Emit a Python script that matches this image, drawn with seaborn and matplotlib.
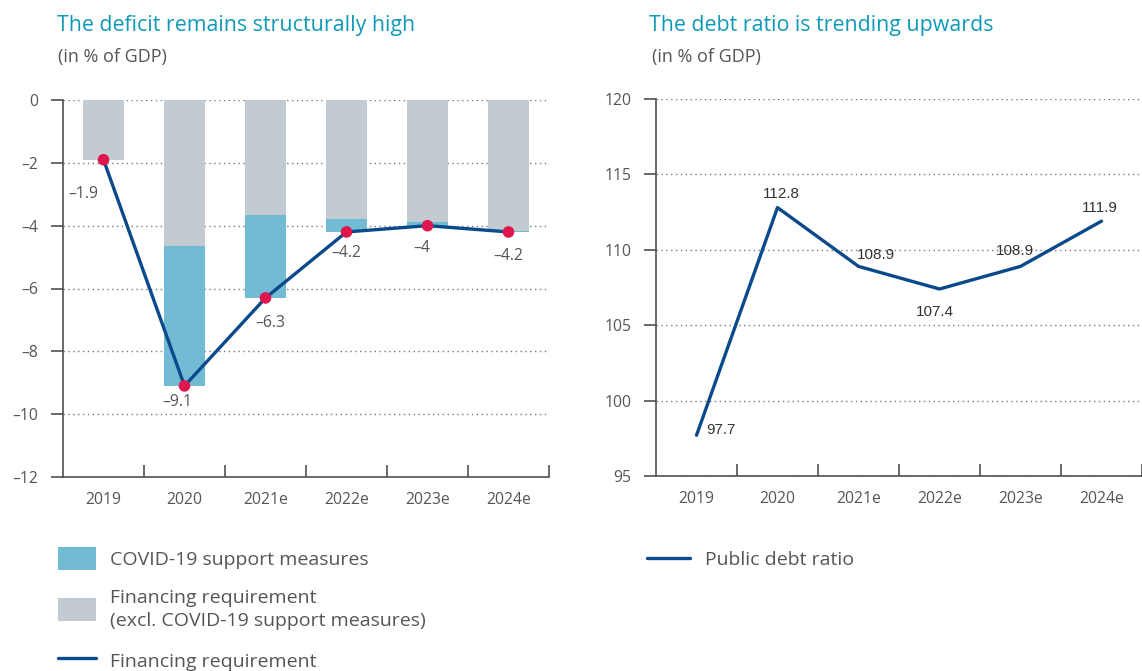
import numpy as np
import pandas as pd
import matplotlib
matplotlib.use("Agg")
import matplotlib.pyplot as plt
from matplotlib.patches import Patch
from matplotlib.lines import Line2D
import seaborn as sns

# ---------------- data ----------------
years = ["2019", "2020", "2021e", "2022e", "2023e", "2024e"]
# Financing requirement (total deficit, % of GDP)
financing_total = [-1.9, -9.1, -6.3, -4.2, -4.0, -4.2]
# Financing requirement excl. COVID-19 support measures
financing_excl = [-1.9, -4.65, -3.65, -3.8, -3.88, -4.18]
# Public debt ratio (% of GDP)
debt_ratio = [97.7, 112.8, 108.9, 107.4, 108.9, 111.9]

left_yticks = [0, -2, -4, -6, -8, -10, -12]
right_yticks = [95, 100, 105, 110, 115, 120]

# ---------------- style ----------------
sns.set_theme(style="white")
plt.rcParams['font.family'] = ['Open Sans', 'DejaVu Sans']

TEAL = "#0f99b9"
BLUE_BAR = "#71bcd4"
GRAY_BAR = "#c2cbd1"
LINE = "#0a4a8b"
DOT = "#e0174f"
TXT = "#555555"
SPINE = "#505050"

W, H = 1142, 671
fig = plt.figure(figsize=(W / 100, H / 100), dpi=100)

def fx(px):
    return px / W

def fy(py):
    return 1 - py / H

axL = fig.add_axes([fx(63), fy(477), 486 / W, 377 / H])
axR = fig.add_axes([fx(656), fy(476), 486 / W, 377 / H])

df = pd.DataFrame({"year": years, "total": financing_total,
                   "excl": financing_excl, "debt": debt_ratio})
pos = np.arange(len(years))

def fmt_minus(v):
    return f"{v:g}".replace("-", "\u2013")

# ---------------- left chart ----------------
sns.barplot(data=df, x="year", y="total", color=BLUE_BAR, saturation=1,
            width=0.5, ax=axL, zorder=2, linewidth=0, edgecolor="none")
sns.barplot(data=df, x="year", y="excl", color=GRAY_BAR, saturation=1,
            width=0.5, ax=axL, zorder=3, linewidth=0, edgecolor="none")
sns.lineplot(x=pos, y=financing_total, color=LINE, lw=2.4, ax=axL, zorder=4)
sns.scatterplot(x=pos, y=financing_total, color=DOT, s=70, edgecolor="none",
                ax=axL, zorder=5)

axL.set_xlim(-0.5, len(years) - 0.5)
axL.set_ylim(-12, 0)
axL.set_yticks(left_yticks)
axL.set_yticklabels([fmt_minus(v) for v in left_yticks])
axL.set_xticks(pos)
axL.set_xticklabels(years)
axL.set_xticks(pos + 0.5, minor=True)
axL.set_xlabel("")
axL.set_ylabel("")

left_offsets = [(-20, -34), (-7, -16), (5, -25), (0, -21), (-6, -22), (0, -24)]
for i, v in enumerate(financing_total):
    dx, dy = left_offsets[i]
    axL.annotate(fmt_minus(v), (pos[i], v), xytext=(dx * 0.72, dy * 0.72),
                 textcoords="offset points", ha="center", va="center",
                 fontsize=11.3, color=TXT)

for y in left_yticks[:-1]:
    axL.axhline(y, color="#777777", lw=1.0, ls=(0, (1, 2.5)), zorder=1)

# ---------------- right chart ----------------
sns.lineplot(data=df, x=pos, y="debt", color=LINE, lw=2.4, ax=axR, zorder=4)
axR.set_xlim(-0.5, len(years) - 0.5)
axR.set_ylim(95, 120)
axR.set_yticks(right_yticks)
axR.set_yticklabels([str(v) for v in right_yticks])
axR.set_xticks(pos)
axR.set_xticklabels(years)
axR.set_xticks(pos + 0.5, minor=True)
axR.set_xlabel("")
axR.set_ylabel("")

right_offsets = [(10, 5, "left"), (4, 14, "center"), (17, 11, "center"),
                 (-5, -23, "center"), (-6, 15, "center"), (-2, 13, "center")]
for i, v in enumerate(debt_ratio):
    dx, dy, ha = right_offsets[i]
    axR.annotate(f"{v:.1f}", (pos[i], v), xytext=(dx * 0.72, dy * 0.72),
                 textcoords="offset points", ha=ha, va="center",
                 fontsize=11, color="#333333", family=["Liberation Sans"])

for y in right_yticks:
    axR.axhline(y, color="#777777", lw=1.0, ls=(0, (1, 2.5)), zorder=1)

# ---------------- common axis styling ----------------
for ax in (axL, axR):
    ax.set_facecolor("none")
    for s in ("top", "right"):
        ax.spines[s].set_visible(False)
    for s in ("left", "bottom"):
        ax.spines[s].set_color(SPINE)
        ax.spines[s].set_linewidth(1.2)
    ax.tick_params(axis="y", which="major", direction="out", length=8.5,
                   width=1.2, color=SPINE, pad=9, labelsize=11.3, labelcolor=TXT,
                   left=True)
    ax.tick_params(axis="x", which="major", length=0, pad=11, labelsize=11.3,
                   labelcolor=TXT, bottom=True)
    ax.tick_params(axis="x", which="minor", direction="in", length=8.5,
                   width=1.2, color=SPINE, bottom=True)
    ax.grid(False)

# ---------------- titles ----------------
fig.text(fx(57), fy(25), "The deficit remains structurally high", color=TEAL,
         fontsize=15.4, ha="left", va="center")
fig.text(fx(58), fy(57), "(in % of GDP)", color=TXT, fontsize=13,
         ha="left", va="center")
fig.text(fx(649), fy(25), "The debt ratio is trending upwards", color=TEAL,
         fontsize=15.4, ha="left", va="center")
fig.text(fx(652), fy(57), "(in % of GDP)", color=TXT, fontsize=13,
         ha="left", va="center")

# ---------------- legends ----------------
h_left = [Patch(facecolor=BLUE_BAR, edgecolor="none"),
          Patch(facecolor=GRAY_BAR, edgecolor="none"),
          Line2D([0], [0], color=LINE, lw=2.4)]
l_left = ["COVID-19 support measures",
          "Financing requirement\n(excl. COVID-19 support measures)",
          "Financing requirement"]
legL = fig.legend(h_left, l_left, loc="upper left",
                  bbox_to_anchor=(fx(58), fy(547)), frameon=False,
                  fontsize=14, handlelength=1.95, handleheight=1.45,
                  handletextpad=0.7, labelspacing=0.95, borderpad=0,
                  borderaxespad=0, labelcolor=TXT)
for t in legL.get_texts():
    t.set_linespacing(1.4)

h_right = [Line2D([0], [0], color=LINE, lw=2.4)]
legR = fig.legend(h_right, ["Public debt ratio"], loc="upper left",
                  bbox_to_anchor=(fx(647), fy(551)), frameon=False,
                  fontsize=14, handlelength=2.2, handletextpad=0.8,
                  borderpad=0, borderaxespad=0, labelcolor=TXT)

fig.savefig("out.png", dpi=100)
